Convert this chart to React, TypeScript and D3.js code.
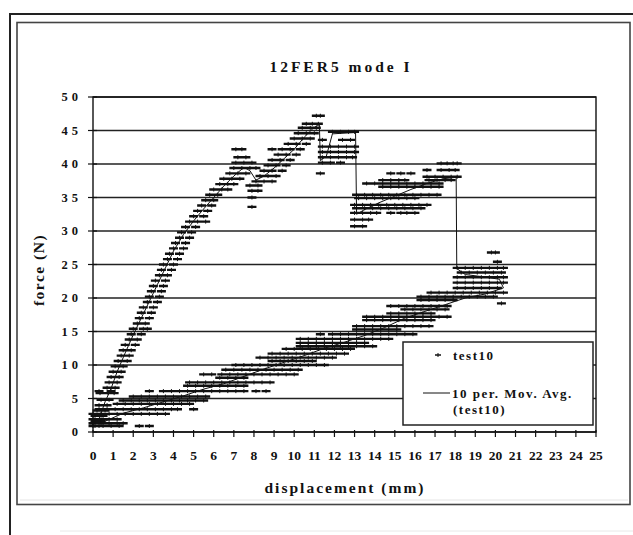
import React from "react";
import * as d3 from "d3";

// ---- data (force N vs displacement mm) ----
// rows: [force, x1, x2, ...] — points of series "test10" at that force level
const loadingRows: number[][] = [
  [0.9, 0.0, 0.3], [1.6, 0.1, 0.4], [2.4, 0.1, 0.5], [3.2, 0.2, 0.6], [4.0, 0.3, 0.7],
  [4.8, 0.4, 0.8], [5.8, 0.35, 0.75, 1.05], [6.6, 0.7, 1.1], [7.4, 0.8, 1.2], [8.2, 0.9, 1.3],
  [9.0, 1.0, 1.4], [9.8, 1.1, 1.5], [10.6, 1.25, 1.7], [11.4, 1.4, 1.8], [12.2, 1.5, 1.9],
  [13.0, 1.6, 2.1], [13.8, 1.8, 2.2], [14.6, 1.9, 2.4], [15.4, 2.0, 2.5, 2.7], [16.2, 2.2, 2.6],
  [17.0, 2.3, 2.8], [17.8, 2.4, 2.9], [18.6, 2.5, 3.0], [19.4, 2.7, 3.2], [20.2, 2.8, 3.3],
  [21.0, 2.9, 3.4], [21.8, 3.0, 3.5], [22.6, 3.1, 3.6], [23.4, 3.3, 3.7], [24.2, 3.4, 3.9],
  [25.0, 3.5, 4.0], [25.8, 3.7, 4.2], [26.6, 3.8, 4.3], [27.4, 4.0, 4.5], [28.2, 4.1, 4.6],
  [29.0, 4.3, 4.8], [29.8, 4.4, 4.9], [30.6, 4.6, 5.1], [31.4, 4.8, 5.2, 5.6], [32.2, 5.0, 5.5],
  [33.0, 5.2, 5.7], [33.8, 5.4, 5.9], [34.6, 5.6, 6.0], [35.4, 5.8, 6.2], [36.2, 6.0, 6.4, 6.7],
  [37.0, 6.3, 6.7, 7.0], [37.8, 6.5, 6.9, 7.3], [38.6, 6.8, 7.2, 7.6], [39.4, 7.0, 7.4, 7.8, 8.1],
  [40.2, 7.1, 7.5, 7.9], [41.0, 7.2, 7.6], [42.2, 7.1, 7.4],
  [36.8, 7.8, 8.2], [36.0, 7.9, 8.2], [35.0, 7.9], [33.6, 7.9],
  [37.4, 8.1, 8.5, 8.9], [38.2, 8.3, 8.7, 9.1], [39.0, 8.5, 8.9, 9.4], [39.8, 8.7, 9.1, 9.6],
  [40.6, 8.9, 9.3, 9.8], [41.4, 9.2, 9.6, 10.1], [42.2, 8.9, 9.4, 9.8, 10.3], [43.0, 9.7, 10.1, 10.6],
  [43.8, 10.0, 10.4, 10.8], [44.6, 10.2, 10.6, 11.0], [45.4, 10.4, 10.8, 11.1], [46.0, 10.6, 10.9, 11.2],
  [47.2, 11.1, 11.3],
];

const plateauRows: number[][] = [
  [44.8, 11.9, 12.3, 12.7, 13.0],
  [43.6, 11.4, 12.4, 12.8],
  [42.6, 11.4, 11.8, 12.2, 12.6, 13.0],
  [41.8, 11.4, 11.8, 12.2, 12.6, 13.0],
  [41.0, 11.4, 11.8, 12.2, 12.6, 12.9],
  [40.2, 11.4, 11.8, 12.3],
  [38.6, 11.3],
];

const reloadRows: number[][] = [
  [30.7, 13.0, 13.4],
  [31.7, 13.0, 13.4, 13.7],
  [32.7, 13.0, 13.4, 13.8, 14.1, 14.8, 15.3, 15.6, 16.0],
  [33.4, 13.1, 13.5, 13.9, 14.3, 14.7, 15.1, 15.5, 15.9, 16.3],
  [33.9, 13.0, 13.4, 13.8, 14.2, 14.6, 15.0, 15.4, 15.8, 16.2, 16.6],
  [34.9, 13.2, 13.6, 14.0, 14.4, 14.8, 15.2, 15.6, 16.0],
  [35.4, 13.1, 13.5, 13.9, 14.3, 14.7, 15.1, 15.5, 15.9, 16.3, 16.7, 17.1],
  [36.6, 14.4, 14.8, 15.2, 15.6, 16.0, 16.4, 16.8, 17.2],
  [37.1, 13.6, 14.0, 14.4, 14.8, 15.2, 15.6, 16.0, 16.4, 16.8, 17.2],
  [37.6, 14.4, 14.8, 15.2, 15.5, 16.7, 17.1, 17.5, 17.8],
  [38.1, 16.6, 17.0, 17.4, 17.8, 18.1],
  [38.6, 14.8, 15.3, 15.8],
  [39.1, 16.6, 17.3, 17.7, 18.0],
  [40.1, 17.3, 17.6, 17.9, 18.1],
];

const lastRows: number[][] = [
  [26.8, 19.8, 20.0],
  [25.4, 20.1],
  [24.5, 18.1, 18.5, 18.9, 19.3, 19.7, 20.1, 20.4],
  [23.8, 18.3, 18.7, 19.1, 19.5, 19.9, 20.3],
  [23.1, 18.1, 18.5, 18.9, 19.3, 19.7, 20.1, 20.4],
  [22.3, 18.1, 18.5, 18.9, 19.3, 19.7, 20.1, 20.4],
  [21.5, 18.1, 18.5, 18.9, 19.3, 19.7, 20.1],
];

const unloadRows: number[][] = [
  [20.8, 16.8, 17.2, 17.6, 18.0, 18.4, 18.8, 19.2, 19.6, 20.0, 20.4],
  [20.2, 16.3, 16.7, 17.1, 17.5, 17.9, 18.3, 18.7, 19.1, 19.5, 19.9],
  [19.7, 16.3, 16.7, 17.1, 17.5, 17.9],
  [19.2, 20.3],
  [18.8, 14.8, 15.2, 15.6, 16.0, 16.4, 16.8, 17.2, 17.6],
  [18.3, 15.5, 15.9, 16.3, 16.7, 17.1, 17.5],
  [17.7, 14.8, 15.2, 15.6, 16.0, 16.4, 16.8],
  [17.2, 13.6, 14.0, 14.4, 14.8, 15.2, 15.6, 16.0, 16.4, 16.8, 17.2, 17.6],
  [16.7, 13.6, 14.0, 14.4, 14.8, 15.2, 15.6, 16.0, 16.4, 16.8],
  [15.8, 13.1, 13.5, 13.9, 14.3, 14.7, 15.1, 15.5, 15.9, 16.3, 16.7],
  [15.3, 13.1, 13.5, 13.9, 14.3, 14.7, 15.1],
  [14.6, 11.3, 11.9, 12.3, 12.7, 13.1, 13.5, 13.9, 14.3, 14.7, 15.1, 15.5, 15.9],
  [13.9, 10.3, 10.7, 11.1, 11.5, 11.9, 12.3, 12.7, 13.1, 13.5, 13.9, 14.3, 14.7],
  [13.3, 10.3, 10.7, 11.1, 11.5, 11.9, 12.3, 12.7, 13.1, 13.5],
  [12.8, 10.3, 10.7, 11.1, 11.5, 11.9, 12.3, 12.7, 13.1, 13.5, 13.9],
  [12.4, 9.6, 10.0, 10.4, 10.8, 11.2, 11.6, 12.0, 12.4, 12.8],
  [11.7, 8.9, 9.3, 9.7, 10.1, 10.5, 10.9, 11.3, 11.7, 12.1, 12.5],
  [11.1, 8.3, 8.7, 9.1, 9.5, 9.9, 10.3, 10.7, 11.1, 11.5, 11.9],
  [10.6, 8.9, 9.3, 9.7, 10.1, 10.5, 10.9],
  [10.0, 7.1, 7.5, 7.9, 8.3, 8.7, 9.1, 9.5, 9.9, 10.3, 10.7, 11.1, 11.5],
  [9.3, 6.6, 7.0, 7.4, 7.8, 8.2, 8.6, 9.0, 9.4, 9.8, 10.2],
  [8.6, 5.5, 5.9, 6.4, 6.8, 7.2, 7.6, 8.0, 8.4, 8.8, 9.2, 9.6, 10.0],
  [8.1, 6.3, 6.7, 7.1, 7.5],
  [7.4, 4.8, 5.2, 5.6, 6.0, 6.4, 6.8, 7.2, 7.6, 8.0, 8.4, 8.8],
  [6.9, 4.7, 5.1, 5.5, 5.9, 6.3, 6.7, 7.1, 7.5],
  [6.1, 0.3, 0.9, 2.8, 3.5, 3.9, 4.3, 4.7, 5.1, 5.5, 5.9, 6.3, 6.7, 7.1, 7.5, 8.1, 8.6],
  [5.3, 2.0, 2.4, 2.8, 3.2, 3.6, 4.0, 4.4, 4.8, 5.2, 5.6],
  [4.7, 1.5, 1.9, 2.3, 2.7, 3.1, 3.5, 3.9, 4.3, 4.7, 5.1, 5.5],
  [4.2, 1.2, 1.6, 2.0, 2.4, 2.8, 3.2, 3.6, 4.0, 4.4, 4.8],
  [3.4, 0.3, 0.7, 1.1, 1.5, 1.9, 2.3, 2.7, 3.1, 3.5, 3.9, 4.2, 5.0],
  [2.7, 0.0, 0.4, 0.8, 1.2, 1.6, 2.0, 2.4, 2.8, 3.2, 3.6],
  [1.9, 0.0, 0.4, 0.8, 1.2],
  [1.3, 0.0, 0.4, 0.8, 1.2, 1.5],
  [0.9, 0.1, 0.5, 0.9, 1.3, 2.3, 2.8],
];

// 10 per. moving average (test10), vertices
const movAvg: [number, number][] = [
  [0.2, 1.2], [0.4, 2.8], [0.6, 4.5], [0.9, 6.5], [1.2, 9], [1.6, 11.8], [2.0, 14.5], [2.4, 17],
  [2.8, 19.5], [3.2, 22], [3.6, 24.5], [4.0, 27], [4.5, 29.5], [5.0, 31.5], [5.5, 33.3], [6.0, 35],
  [6.5, 36.7], [7.0, 38.2], [7.5, 39.5], [7.8, 39], [8.1, 37.6], [8.5, 38.2], [9.0, 39.4],
  [9.5, 40.8], [10.0, 42.2], [10.5, 44], [10.9, 45.2], [11.25, 46], [11.3, 40.5], [11.6, 41.2],
  [11.9, 44.5], [13.05, 44.7], [13.1, 32.5], [13.5, 33.2], [14.2, 34.2], [15.0, 35.2], [15.8, 36.2],
  [16.6, 37.1], [17.4, 37.8], [18.05, 38], [18.08, 24.4], [18.5, 23.5], [19.3, 23.2], [20.2, 22.8],
  [20.4, 21.5], [19.5, 20.6], [18.5, 20.0], [17.5, 19.0], [16.5, 18.0], [15.5, 17.0], [14.5, 15.6],
  [13.5, 14.4], [12.5, 13.4], [11.5, 12.5], [10.5, 11.4], [9.5, 10.4], [8.5, 9.4], [7.5, 8.3],
  [6.5, 7.2], [5.5, 6.4], [4.5, 5.4], [3.5, 4.5], [2.5, 3.6], [1.5, 2.8], [0.6, 1.6],
];

const xTicks = d3.range(0, 26);
const yTicks = d3.range(0, 51, 5);
const title = "12FER5 mode I";
const xLabel = "displacement (mm)";
const yLabel = "force (N)";
const seriesName = "test10";
const trendName = "10 per. Mov. Avg.";
const trendName2 = "(test10)";

const FONT = "'Liberation Serif', 'Times New Roman', 'DejaVu Serif', serif";

export default function App() {
  const W = 633, H = 535;
  const x = d3.scaleLinear().domain([0, 25]).range([93, 596]);
  const y = d3.scaleLinear().domain([0, 50]).range([432, 97]);

  const points: [number, number][] = [];
  [loadingRows, plateauRows, reloadRows, lastRows, unloadRows].forEach((rows) =>
    rows.forEach((r) => r.slice(1).forEach((xv) => points.push([xv, r[0]])))
  );

  const hPath = d3.path();
  const vPath = d3.path();
  points.forEach(([xv, fv]) => {
    const px = x(xv), py = y(fv);
    hPath.moveTo(px - 4.5, py);
    hPath.lineTo(px + 4.5, py);
    vPath.moveTo(px, py - 2);
    vPath.lineTo(px, py + 2);
  });

  const line = d3.line<[number, number]>().x((d) => x(d[0])).y((d) => y(d[1]));

  const [x0, x1] = x.range();
  const [y0, y1] = y.range();

  return (
    <svg width={W} height={H} style={{ position: "absolute", left: 0, top: 0, background: "#fff", fontFamily: FONT }}
      fontWeight="bold">
      <rect x={0} y={0} width={W} height={H} fill="#fff" />
      {/* frames */}
      <line x1={9} y1={14} x2={633} y2={14} stroke="#222" strokeWidth={2} />
      <line x1={10} y1={13} x2={10} y2={535} stroke="#222" strokeWidth={2} />
      <rect x={17} y={22.5} width={613} height={482} fill="none" stroke="#444" strokeWidth={1.6} />
      <line x1={20} y1={500} x2={628} y2={500} stroke="#e4e4e4" strokeWidth={1} />
      <line x1={60} y1={531} x2={633} y2={531} stroke="#e8e8e8" strokeWidth={1} />

      {/* title */}
      <text x={341} y={72} textAnchor="middle" fontSize={15.5} letterSpacing={3} fill="#111">{title}</text>

      {/* gridlines */}
      {yTicks.map((t) => (
        <line key={"g" + t} x1={x0} x2={x1} y1={y(t)} y2={y(t)} stroke="#222" strokeWidth={1.3} />
      ))}
      {/* plot border */}
      <rect x={x0} y={y1} width={x1 - x0} height={y0 - y1} fill="none" stroke="#111" strokeWidth={1.4} />

      {/* y ticks & labels */}
      {yTicks.map((t) => (
        <g key={"y" + t}>
          <line x1={x0 - 5} x2={x0 + 4} y1={y(t)} y2={y(t)} stroke="#111" strokeWidth={1.2} />
          <text x={82} y={y(t) + 4} textAnchor="end" fontSize={12.5} letterSpacing={4} fill="#111">{t}</text>
        </g>
      ))}
      {/* x ticks & labels */}
      {xTicks.map((t) => (
        <g key={"x" + t}>
          <line x1={x(t)} x2={x(t)} y1={y0 - 2} y2={y0 + 5} stroke="#111" strokeWidth={1.2} />
          <text x={x(t)} y={460} textAnchor="middle" fontSize={13.5} fill="#111">{t}</text>
        </g>
      ))}

      {/* data markers */}
      <path d={hPath.toString()} stroke="#111" strokeWidth={2.4} fill="none" />
      <path d={vPath.toString()} stroke="#111" strokeWidth={1} fill="none" />
      {/* moving average */}
      <path d={line(movAvg) || ""} stroke="#111" strokeWidth={1} fill="none" />

      {/* axis titles */}
      <text x={345} y={493} textAnchor="middle" fontSize={15.5} letterSpacing={2} fill="#111">{xLabel}</text>
      <text transform="translate(44,270) rotate(-90)" textAnchor="middle" fontSize={15.5} letterSpacing={1.5} fill="#111">{yLabel}</text>

      {/* legend */}
      <rect x={403} y={342} width={190} height={83} fill="#fff" stroke="#222" strokeWidth={1.5} />
      <line x1={435} x2={441} y1={355} y2={355} stroke="#111" strokeWidth={1.5} />
      <line x1={438} x2={438} y1={353} y2={357} stroke="#111" strokeWidth={1} />
      <text x={453} y={360} fontSize={13} letterSpacing={1.5} fill="#111">{seriesName}</text>
      <line x1={423} x2={450} y1={393} y2={393} stroke="#111" strokeWidth={1} />
      <text x={452} y={398} fontSize={13} letterSpacing={1.5} fill="#111">{trendName}</text>
      <text x={453} y={414} fontSize={13} letterSpacing={1.5} fill="#111">{trendName2}</text>
    </svg>
  );
}
